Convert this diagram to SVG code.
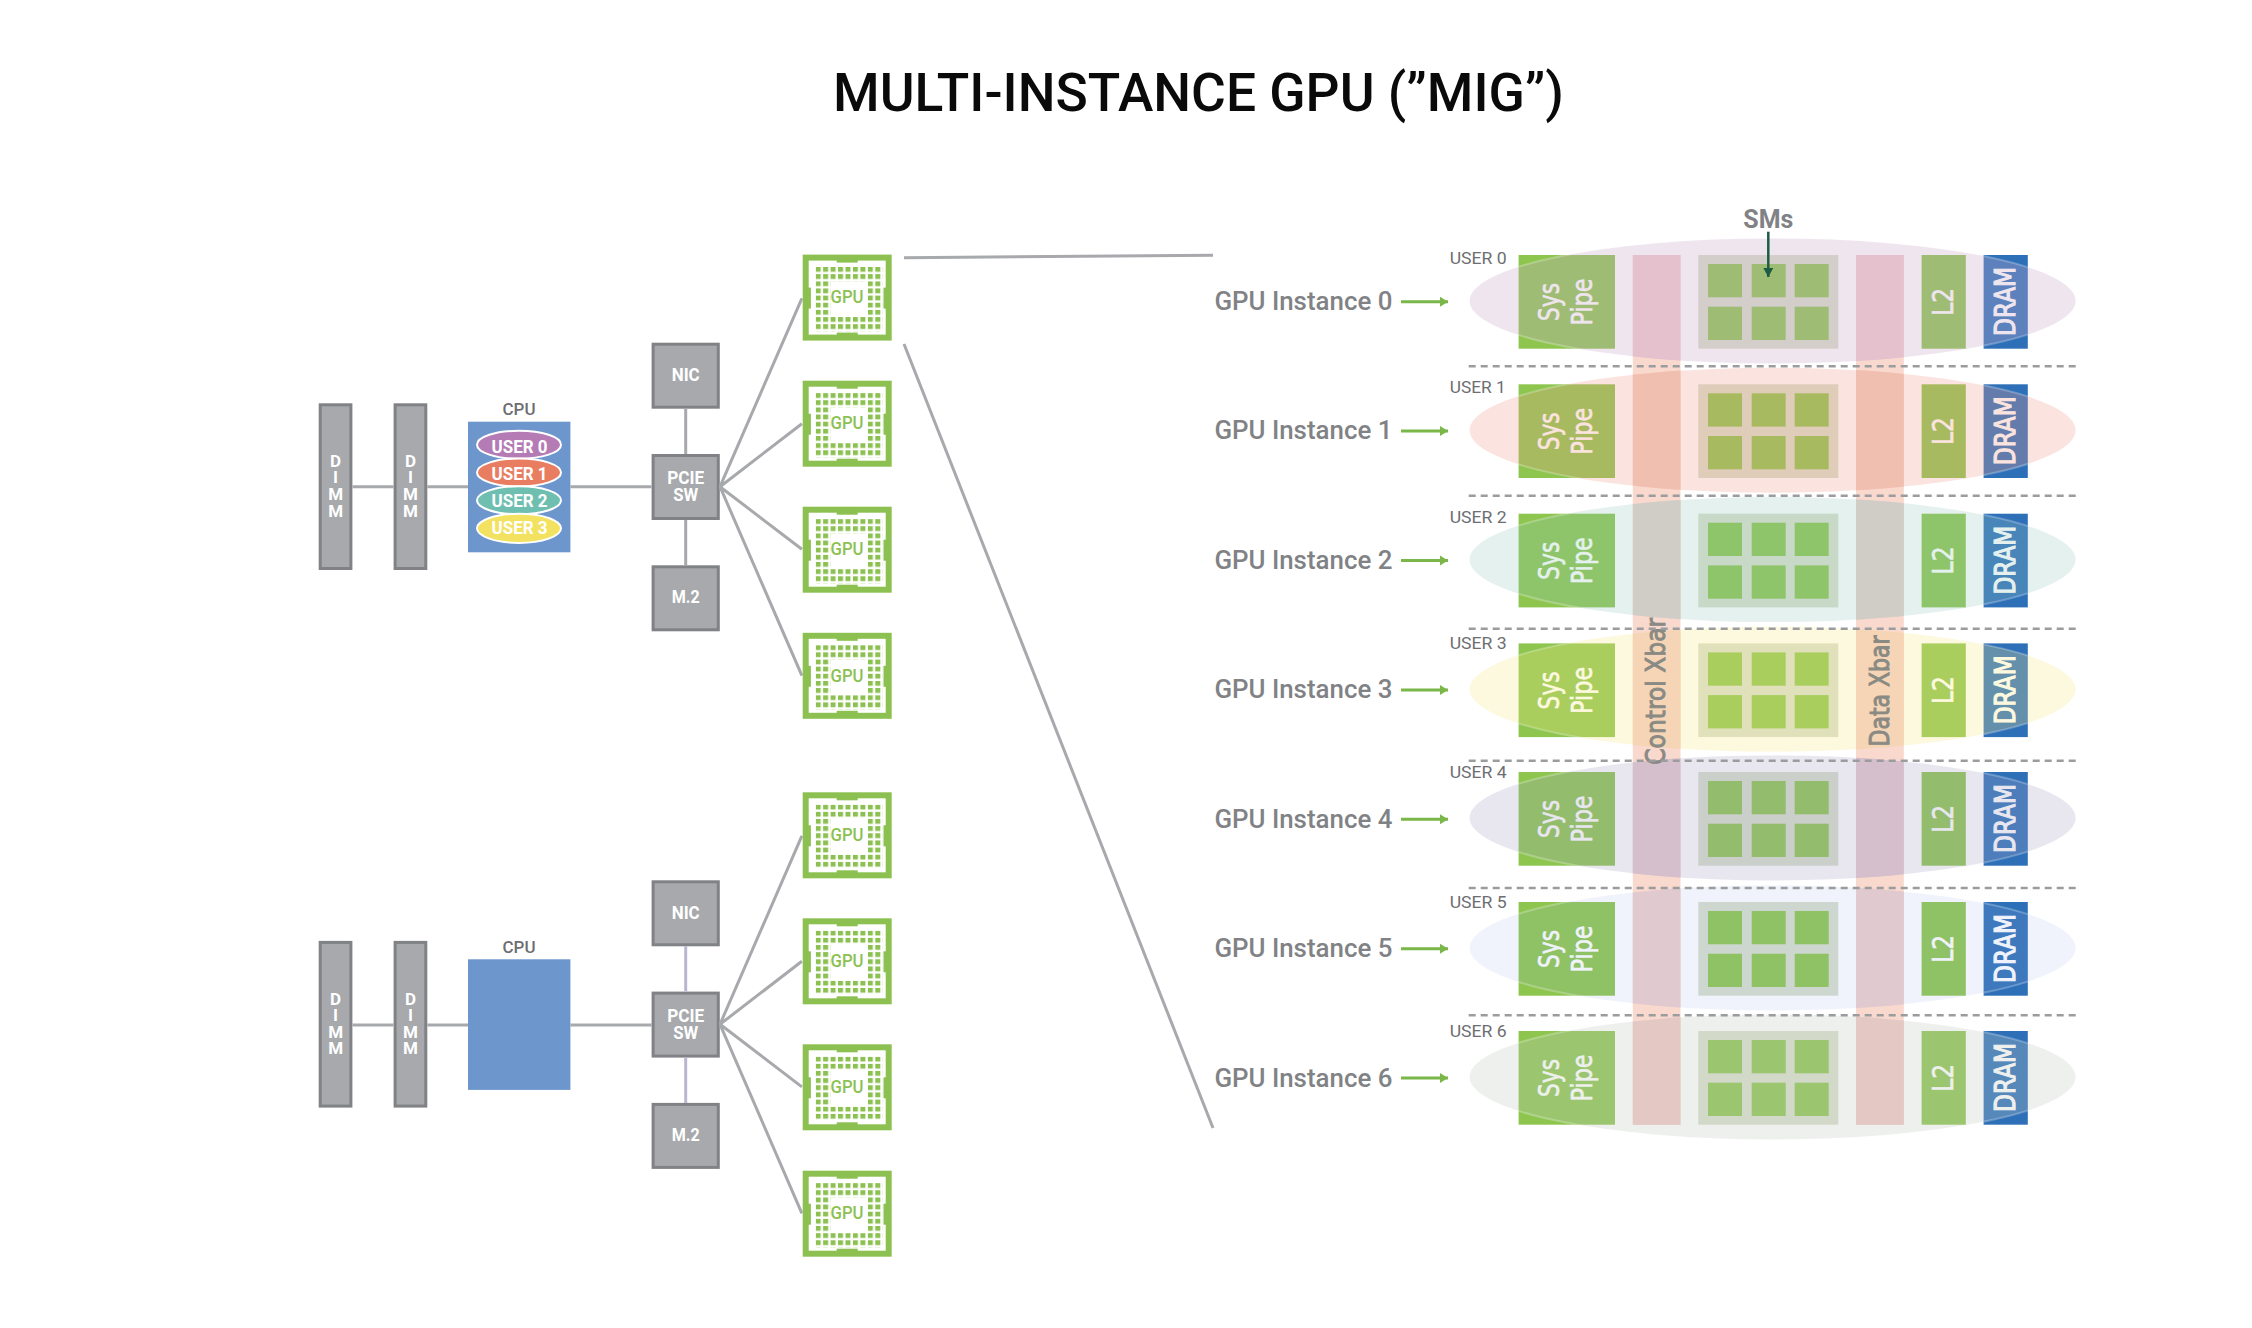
<svg xmlns="http://www.w3.org/2000/svg" width="2252" height="1328" viewBox="0 0 2252 1328">
<style>
text{font-family:"Roboto","Liberation Sans",sans-serif}
.box{fill:#a7a9ac;stroke:#808285;stroke-width:3}
.bt{fill:#fff;font-weight:700;font-size:18px;text-anchor:middle}
.dm{font-size:17px}
.cl{fill:#6d6e71;font-size:17px;font-weight:500;text-anchor:middle}
.cpu{fill:#6c96cc}
.ue{stroke:#fff;stroke-width:2}
.gt{fill:#8cc152;font-size:18px;font-weight:500;text-anchor:middle}
.ln{stroke:#a7a9ac;stroke-width:3;fill:none}
.ln2{stroke:#b9b7d0;stroke-width:3;fill:none}
.grn{fill:#8dc54f}
.dram{fill:#2e70b8}
.smb{fill:#d8dfcc}
.xb{fill:#f9d8ce}
.wd{font-family:"DejaVu Sans",sans-serif;fill:#fff;stroke:#fff;stroke-width:.6;text-anchor:middle;font-size:28px}
.wb{font-family:"DejaVu Sans",sans-serif;fill:#fff;stroke:#fff;stroke-width:1.1;text-anchor:middle;font-size:28px}
.xt{font-family:"DejaVu Sans",sans-serif;fill:#8a8a84;stroke:#8a8a84;stroke-width:1;text-anchor:middle;font-size:27px}
.il{fill:#808285;font-size:26px;font-weight:500}
.ul{fill:#6d6e71;font-size:17px}
.sep{stroke:#9a9c9e;stroke-width:2.5;stroke-dasharray:7 5;fill:none}
.ga{stroke:#7ab648;stroke-width:3;fill:none;marker-end:url(#gh)}
.eo{fill:none;stroke:#fff;stroke-width:2;opacity:.25}
</style>
<defs>
<marker id="gh" markerUnits="userSpaceOnUse" markerWidth="10" markerHeight="12" refX="8" refY="6" orient="auto"><path d="M0 1L8 6L0 11Z" fill="#7ab648"/></marker>
<marker id="dh" markerUnits="userSpaceOnUse" markerWidth="12" markerHeight="10" refX="9" refY="5" orient="auto"><path d="M0 0L9 5L0 10Z" fill="#1d5b45"/></marker>
<pattern id="dots" patternUnits="userSpaceOnUse" x="13" y="12.4" width="7.45" height="7.15"><rect width="5" height="4.8" fill="#8cc152"/></pattern>
<clipPath id="xc"><rect x="1632.8" y="200" width="47.7" height="200"/><rect x="1856" y="200" width="47.8" height="200"/></clipPath>
<clipPath id="xt"><rect x="1632.8" y="255" width="47.7" height="145"/><rect x="1856" y="255" width="47.8" height="145"/></clipPath>
<clipPath id="xe"><rect x="1632.8" y="200" width="47.7" height="148.8"/><rect x="1856" y="200" width="47.8" height="148.8"/></clipPath>
<clipPath id="bc"><rect x="1518.6" y="255" width="96.4" height="93.7"/><rect x="1983.6" y="255" width="44.2" height="93.7"/></clipPath>
<g id="chip">
<rect width="89" height="86" fill="#8cc152"/>
<rect x="6" y="6" width="77" height="74" fill="#fff"/>
<rect x="34" y="5" width="21" height="3" fill="#8cc152"/>
<rect x="34" y="78" width="21" height="3" fill="#8cc152"/>
<rect x="5" y="33" width="3.2" height="21" fill="#8cc152"/>
<rect x="80.8" y="33" width="3.2" height="21" fill="#8cc152"/>
<rect x="13" y="12.4" width="67" height="14.2" fill="url(#dots)"/>
<rect x="13" y="62.45" width="67" height="14.2" fill="url(#dots)"/>
<rect x="13" y="26.7" width="14.8" height="35.7" fill="url(#dots)"/>
<rect x="65.15" y="26.7" width="14.8" height="35.7" fill="url(#dots)"/>
</g>
<g id="rowbase">
<rect class="grn" x="1518.6" y="255" width="96.4" height="93.7"/>
<rect class="smb" x="1698.3" y="255" width="140" height="93.7"/>
<rect class="grn" x="1708" y="264" width="34" height="33.3"/>
<rect class="grn" x="1751.7" y="264" width="34" height="33.3"/>
<rect class="grn" x="1794.7" y="264" width="34" height="33.3"/>
<rect class="grn" x="1708" y="306.7" width="34" height="33.3"/>
<rect class="grn" x="1751.7" y="306.7" width="34" height="33.3"/>
<rect class="grn" x="1794.7" y="306.7" width="34" height="33.3"/>
<rect class="grn" x="1921.6" y="255" width="44.2" height="93.7"/>
<rect class="dram" x="1983.6" y="255" width="44.2" height="93.7"/>
</g>
<ellipse id="rim" class="eo" cx="1772.6" cy="300.9" rx="303" ry="62.5" clip-path="url(#bc)"/>
</defs>
<rect width="2252" height="1328" fill="#fff"/>
<text id="title" x="1198.5" y="111" font-size="53" font-weight="500" fill="#0a0a0a" text-anchor="middle" textLength="731" lengthAdjust="spacingAndGlyphs">MULTI-INSTANCE GPU (”MIG”)</text>

<g id="dimm-a1"><rect class="box" x="320.2" y="404.8" width="30.7" height="163.7"/><text class="bt dm"><tspan x="335.6" y="467.3">D</tspan><tspan x="335.6" y="483.3">I</tspan><tspan x="335.6" y="500">M</tspan><tspan x="335.6" y="516.7">M</tspan></text></g>
<g id="dimm-a2"><rect class="box" x="395.1" y="404.8" width="30.7" height="163.7"/><text class="bt dm"><tspan x="410.5" y="467.3">D</tspan><tspan x="410.5" y="483.3">I</tspan><tspan x="410.5" y="500">M</tspan><tspan x="410.5" y="516.7">M</tspan></text></g>
<g id="cpu-a"><text class="cl" x="519" y="415" textLength="33" lengthAdjust="spacingAndGlyphs">CPU</text><rect class="cpu" x="468" y="421.7" width="102.4" height="130.6"/>
<ellipse class="ue" cx="519" cy="444.7" rx="42" ry="14" fill="#b57bb5"/><ellipse class="ue" cx="519" cy="472.5" rx="42" ry="14" fill="#e97d62"/><ellipse class="ue" cx="519" cy="500.3" rx="42" ry="14" fill="#6fbfb0"/><ellipse class="ue" cx="519" cy="528.3" rx="42" ry="14.6" fill="#f3e25f"/>
<text class="bt" x="519.5" y="452.7" textLength="56" lengthAdjust="spacingAndGlyphs">USER 0</text><text class="bt" x="519.5" y="480" textLength="56" lengthAdjust="spacingAndGlyphs">USER 1</text><text class="bt" x="519.5" y="506.7" textLength="56" lengthAdjust="spacingAndGlyphs">USER 2</text><text class="bt" x="519.5" y="534" textLength="56" lengthAdjust="spacingAndGlyphs">USER 3</text></g>
<g id="nic-a"><rect class="box" x="653.1" y="344.2" width="65.2" height="63"/><text class="bt" x="685.7" y="381" textLength="28" lengthAdjust="spacingAndGlyphs">NIC</text></g>
<g id="pcie-a"><rect class="box" x="653.1" y="455.5" width="65.2" height="63"/><text class="bt" x="685.7" y="484.3" textLength="37" lengthAdjust="spacingAndGlyphs">PCIE</text><text class="bt" x="685.7" y="501" textLength="25" lengthAdjust="spacingAndGlyphs">SW</text></g>
<g id="m2-a"><rect class="box" x="653.1" y="566.8" width="65.2" height="63"/><text class="bt" x="685.7" y="603.3" textLength="28" lengthAdjust="spacingAndGlyphs">M.2</text></g>
<g id="gpu-a1"><use href="#chip" x="802.7" y="254.6"/><text class="gt" x="847" y="303.3" textLength="33" lengthAdjust="spacingAndGlyphs">GPU</text></g>
<g id="gpu-a2"><use href="#chip" x="802.7" y="380.7"/><text class="gt" x="847" y="429.4" textLength="33" lengthAdjust="spacingAndGlyphs">GPU</text></g>
<g id="gpu-a3"><use href="#chip" x="802.7" y="506.7"/><text class="gt" x="847" y="555.4" textLength="33" lengthAdjust="spacingAndGlyphs">GPU</text></g>
<g id="gpu-a4"><use href="#chip" x="802.7" y="632.8"/><text class="gt" x="847" y="681.5" textLength="33" lengthAdjust="spacingAndGlyphs">GPU</text></g>

<g id="dimm-b1"><rect class="box" x="320.2" y="942.4" width="30.7" height="163.7"/><text class="bt dm"><tspan x="335.6" y="1004.9">D</tspan><tspan x="335.6" y="1020.9">I</tspan><tspan x="335.6" y="1037.6">M</tspan><tspan x="335.6" y="1054.3">M</tspan></text></g>
<g id="dimm-b2"><rect class="box" x="395.1" y="942.4" width="30.7" height="163.7"/><text class="bt dm"><tspan x="410.5" y="1004.9">D</tspan><tspan x="410.5" y="1020.9">I</tspan><tspan x="410.5" y="1037.6">M</tspan><tspan x="410.5" y="1054.3">M</tspan></text></g>
<g id="cpu-b"><text class="cl" x="519" y="952.6" textLength="33" lengthAdjust="spacingAndGlyphs">CPU</text><rect class="cpu" x="468" y="959.3" width="102.4" height="130.6"/></g>
<g id="nic-b"><rect class="box" x="653.1" y="881.8" width="65.2" height="63"/><text class="bt" x="685.7" y="918.6" textLength="28" lengthAdjust="spacingAndGlyphs">NIC</text></g>
<g id="pcie-b"><rect class="box" x="653.1" y="993.1" width="65.2" height="63"/><text class="bt" x="685.7" y="1021.9" textLength="37" lengthAdjust="spacingAndGlyphs">PCIE</text><text class="bt" x="685.7" y="1038.6" textLength="25" lengthAdjust="spacingAndGlyphs">SW</text></g>
<g id="m2-b"><rect class="box" x="653.1" y="1104.4" width="65.2" height="63"/><text class="bt" x="685.7" y="1140.9" textLength="28" lengthAdjust="spacingAndGlyphs">M.2</text></g>
<g id="gpu-b1"><use href="#chip" x="802.7" y="792.3"/><text class="gt" x="847" y="841" textLength="33" lengthAdjust="spacingAndGlyphs">GPU</text></g>
<g id="gpu-b2"><use href="#chip" x="802.7" y="918.3"/><text class="gt" x="847" y="967" textLength="33" lengthAdjust="spacingAndGlyphs">GPU</text></g>
<g id="gpu-b3"><use href="#chip" x="802.7" y="1044.3"/><text class="gt" x="847" y="1093" textLength="33" lengthAdjust="spacingAndGlyphs">GPU</text></g>
<g id="gpu-b4"><use href="#chip" x="802.7" y="1170.7"/><text class="gt" x="847" y="1219.4" textLength="33" lengthAdjust="spacingAndGlyphs">GPU</text></g>

<g id="xbars">
<rect class="xb" x="1632.8" y="255" width="47.7" height="869.8"/>
<rect class="xb" x="1856" y="255" width="47.8" height="869.8"/>
</g>

<g id="instance-0"><use href="#rowbase"/><text class="wd" transform="translate(1559,302) rotate(-90)" textLength="38" lengthAdjust="spacingAndGlyphs">Sys</text><text class="wd" transform="translate(1591.5,302) rotate(-90)" textLength="47" lengthAdjust="spacingAndGlyphs">Pipe</text><text class="wd" transform="translate(1953,301.7) rotate(-90)" textLength="28" lengthAdjust="spacingAndGlyphs">L2</text><text class="wb" transform="translate(2015,301.4) rotate(-90)" textLength="69" lengthAdjust="spacingAndGlyphs">DRAM</text><ellipse cx="1772.6" cy="300.9" rx="303" ry="62.5" fill="#caa8ca" opacity=".3"/><ellipse cx="1772.6" cy="300.9" rx="303" ry="62.5" fill="#e5c0cd" clip-path="url(#xt)"/><use href="#rim"/></g>
<g id="instance-1" transform="translate(0,129.3)"><use href="#rowbase"/><text class="wd" transform="translate(1559,302) rotate(-90)" textLength="38" lengthAdjust="spacingAndGlyphs">Sys</text><text class="wd" transform="translate(1591.5,302) rotate(-90)" textLength="47" lengthAdjust="spacingAndGlyphs">Pipe</text><text class="wd" transform="translate(1953,301.7) rotate(-90)" textLength="28" lengthAdjust="spacingAndGlyphs">L2</text><text class="wb" transform="translate(2015,301.4) rotate(-90)" textLength="69" lengthAdjust="spacingAndGlyphs">DRAM</text><ellipse cx="1772.6" cy="300.9" rx="303" ry="62.5" fill="#f19f8d" opacity=".28"/><ellipse cx="1772.6" cy="300.9" rx="303" ry="62.5" fill="#f1bfb0" clip-path="url(#xc)"/><use href="#rim"/></g>
<g id="instance-2" transform="translate(0,258.7)"><use href="#rowbase"/><text class="wd" transform="translate(1559,302) rotate(-90)" textLength="38" lengthAdjust="spacingAndGlyphs">Sys</text><text class="wd" transform="translate(1591.5,302) rotate(-90)" textLength="47" lengthAdjust="spacingAndGlyphs">Pipe</text><text class="wd" transform="translate(1953,301.7) rotate(-90)" textLength="28" lengthAdjust="spacingAndGlyphs">L2</text><text class="wb" transform="translate(2015,301.4) rotate(-90)" textLength="69" lengthAdjust="spacingAndGlyphs">DRAM</text><ellipse cx="1772.6" cy="300.9" rx="303" ry="62.5" fill="#97c7bb" opacity=".25"/><ellipse cx="1772.6" cy="300.9" rx="303" ry="62.5" fill="#d0cdc6" clip-path="url(#xc)"/><use href="#rim"/></g>
<g id="instance-3" transform="translate(0,388.4)"><use href="#rowbase"/><text class="wd" transform="translate(1559,302) rotate(-90)" textLength="38" lengthAdjust="spacingAndGlyphs">Sys</text><text class="wd" transform="translate(1591.5,302) rotate(-90)" textLength="47" lengthAdjust="spacingAndGlyphs">Pipe</text><text class="wd" transform="translate(1953,301.7) rotate(-90)" textLength="28" lengthAdjust="spacingAndGlyphs">L2</text><text class="wb" transform="translate(2015,301.4) rotate(-90)" textLength="69" lengthAdjust="spacingAndGlyphs">DRAM</text><ellipse cx="1772.6" cy="300.9" rx="303" ry="62.5" fill="#f8e988" opacity=".27"/><ellipse cx="1772.6" cy="300.9" rx="303" ry="62.5" fill="#f5d5b5" clip-path="url(#xc)"/><use href="#rim"/></g>
<g id="instance-4" transform="translate(0,517)"><use href="#rowbase"/><text class="wd" transform="translate(1559,302) rotate(-90)" textLength="38" lengthAdjust="spacingAndGlyphs">Sys</text><text class="wd" transform="translate(1591.5,302) rotate(-90)" textLength="47" lengthAdjust="spacingAndGlyphs">Pipe</text><text class="wd" transform="translate(1953,301.7) rotate(-90)" textLength="28" lengthAdjust="spacingAndGlyphs">L2</text><text class="wb" transform="translate(2015,301.4) rotate(-90)" textLength="69" lengthAdjust="spacingAndGlyphs">DRAM</text><ellipse cx="1772.6" cy="300.9" rx="303" ry="62.5" fill="#a7a3c5" opacity=".26"/><ellipse cx="1772.6" cy="300.9" rx="303" ry="62.5" fill="#d6bfcc" clip-path="url(#xc)"/><use href="#rim"/></g>
<g id="instance-5" transform="translate(0,647)"><use href="#rowbase"/><text class="wd" transform="translate(1559,302) rotate(-90)" textLength="38" lengthAdjust="spacingAndGlyphs">Sys</text><text class="wd" transform="translate(1591.5,302) rotate(-90)" textLength="47" lengthAdjust="spacingAndGlyphs">Pipe</text><text class="wd" transform="translate(1953,301.7) rotate(-90)" textLength="28" lengthAdjust="spacingAndGlyphs">L2</text><text class="wb" transform="translate(2015,301.4) rotate(-90)" textLength="69" lengthAdjust="spacingAndGlyphs">DRAM</text><ellipse cx="1772.6" cy="300.9" rx="303" ry="62.5" fill="#9bafe4" opacity=".15"/><ellipse cx="1772.6" cy="300.9" rx="303" ry="62.5" fill="#e0cad0" clip-path="url(#xc)"/><use href="#rim"/></g>
<g id="instance-6" transform="translate(0,776)"><use href="#rowbase"/><text class="wd" transform="translate(1559,302) rotate(-90)" textLength="38" lengthAdjust="spacingAndGlyphs">Sys</text><text class="wd" transform="translate(1591.5,302) rotate(-90)" textLength="47" lengthAdjust="spacingAndGlyphs">Pipe</text><text class="wd" transform="translate(1953,301.7) rotate(-90)" textLength="28" lengthAdjust="spacingAndGlyphs">L2</text><text class="wb" transform="translate(2015,301.4) rotate(-90)" textLength="69" lengthAdjust="spacingAndGlyphs">DRAM</text><ellipse cx="1772.6" cy="300.9" rx="303" ry="62.5" fill="#c2c9c2" opacity=".28"/><ellipse cx="1772.6" cy="300.9" rx="303" ry="62.5" fill="#e4c8c4" clip-path="url(#xe)"/><use href="#rim"/></g>

<g id="xbar-labels">
<text class="xt" transform="translate(1665,691.3) rotate(-90)" textLength="147" lengthAdjust="spacingAndGlyphs">Control Xbar</text>
<text class="xt" transform="translate(1889,691) rotate(-90)" textLength="111" lengthAdjust="spacingAndGlyphs">Data Xbar</text>
</g>

<g id="labels">
<text class="il" x="1214.4" y="309.8" textLength="178" lengthAdjust="spacingAndGlyphs">GPU Instance 0</text>
<text class="il" x="1214.4" y="438.8" textLength="178" lengthAdjust="spacingAndGlyphs">GPU Instance 1</text>
<text class="il" x="1214.4" y="568.8" textLength="178" lengthAdjust="spacingAndGlyphs">GPU Instance 2</text>
<text class="il" x="1214.4" y="698" textLength="178" lengthAdjust="spacingAndGlyphs">GPU Instance 3</text>
<text class="il" x="1214.4" y="827.8" textLength="178" lengthAdjust="spacingAndGlyphs">GPU Instance 4</text>
<text class="il" x="1214.4" y="956.9" textLength="178" lengthAdjust="spacingAndGlyphs">GPU Instance 5</text>
<text class="il" x="1214.4" y="1087" textLength="178" lengthAdjust="spacingAndGlyphs">GPU Instance 6</text>
<text class="ul" x="1449.7" y="264" textLength="57" lengthAdjust="spacingAndGlyphs">USER 0</text>
<text class="ul" x="1449.7" y="393" textLength="56" lengthAdjust="spacingAndGlyphs">USER 1</text>
<text class="ul" x="1449.7" y="523" textLength="57" lengthAdjust="spacingAndGlyphs">USER 2</text>
<text class="ul" x="1449.7" y="648.6" textLength="57" lengthAdjust="spacingAndGlyphs">USER 3</text>
<text class="ul" x="1449.7" y="777.7" textLength="57" lengthAdjust="spacingAndGlyphs">USER 4</text>
<text class="ul" x="1449.7" y="907.9" textLength="57" lengthAdjust="spacingAndGlyphs">USER 5</text>
<text class="ul" x="1449.7" y="1036.7" textLength="57" lengthAdjust="spacingAndGlyphs">USER 6</text>
<text x="1768.3" y="228" font-size="25" font-weight="700" fill="#808285" text-anchor="middle" textLength="50" lengthAdjust="spacingAndGlyphs">SMs</text>
</g>

<g id="separators">
<path class="sep" d="M1468.7 366.3H2077M1468.7 495.7H2077M1468.7 628.7H2077M1468.7 760.8H2077M1468.7 887.9H2077M1468.7 1015.3H2077"/>
</g>

<g id="connectors">
<path class="ln" d="M352.4 486.7H393.6M427.3 486.7H468M570.4 486.7H651.6M685.7 408.7V454M685.7 520V565.3"/>
<path class="ln" d="M720 486.7L801.9 298.3M720 486.7L801.9 423.7M720 486.7L801.9 549.3M720 486.7L801.9 675.7"/>
<path class="ln" d="M352.4 1025H393.6M427.3 1025H468M570.4 1025H651.6"/>
<path class="ln2" d="M685.7 946.3V991.6M685.7 1057.6V1102.9"/>
<path class="ln" d="M720 1024.3L801.9 835.9M720 1024.3L801.9 961.3M720 1024.3L801.9 1086.9M720 1024.3L801.9 1213.3"/>
<path class="ln" d="M904 257.7L1213 255.2M904 344L1213 1128"/>
<path class="ga" d="M1401 301.7H1448"/>
<path class="ga" d="M1401 431H1448"/>
<path class="ga" d="M1401 560.4H1448"/>
<path class="ga" d="M1401 690H1448"/>
<path class="ga" d="M1401 819.3H1448"/>
<path class="ga" d="M1401 948.7H1448"/>
<path class="ga" d="M1401 1078H1448"/>
<path d="M1768.3 231.7V277" stroke="#1d5b45" stroke-width="2.5" fill="none" marker-end="url(#dh)"/>
</g>
</svg>
